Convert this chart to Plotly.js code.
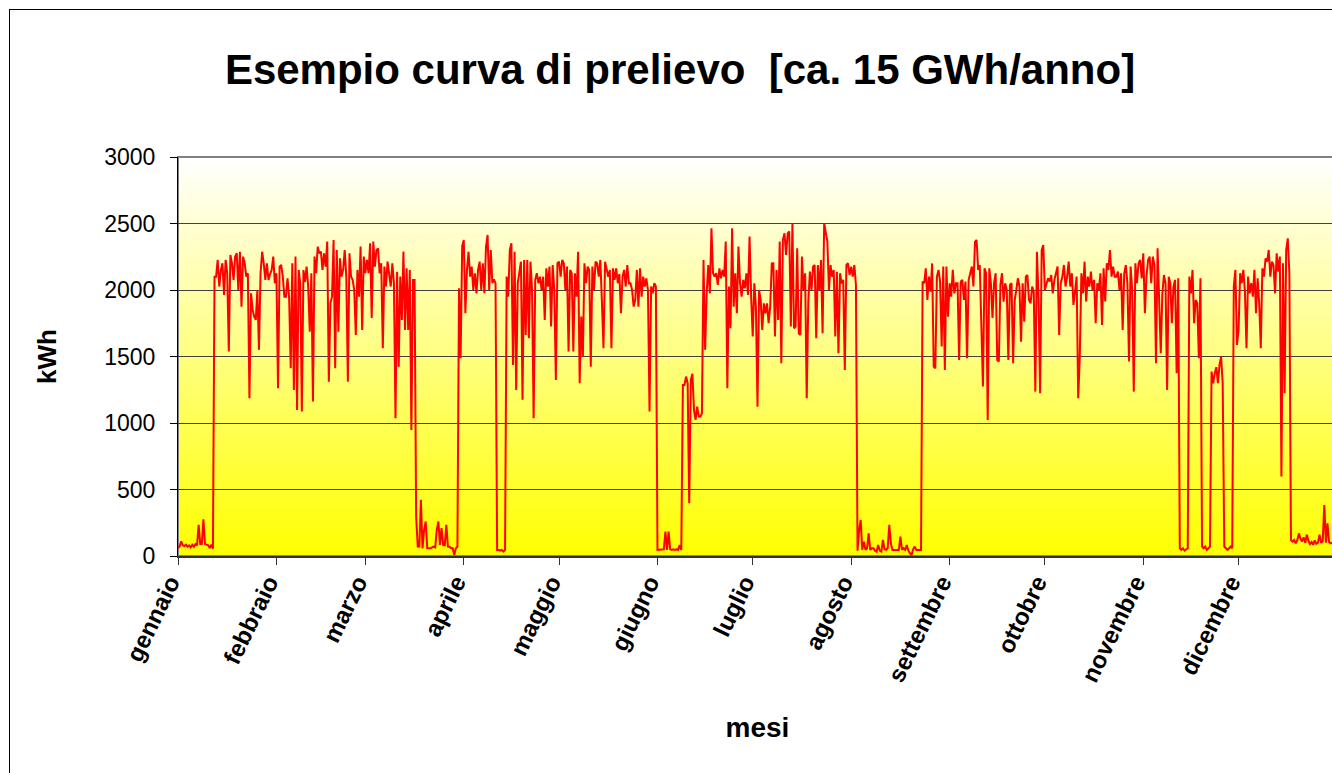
<!DOCTYPE html>
<html>
<head>
<meta charset="utf-8">
<script src="https://cdn.plot.ly/plotly-3.0.1.min.js"></script>
<style>
html,body{margin:0;padding:0;overflow:hidden;background:#fff;width:1332px;height:773px;}
#chart{position:absolute;left:0;top:0;width:1360px;height:773px;}
#bordo{position:absolute;left:9px;top:9px;width:1400px;height:900px;border:1px solid #000;pointer-events:none;}
</style>
</head>
<body>
<div id="chart"></div>
<div id="bordo"></div>
<script>
// Month names (tick labels) and first day of each month (day of year)
const mesi = ["gennaio","febbraio","marzo","aprile","maggio","giugno","luglio","agosto","settembre","ottobre","novembre","dicembre"];
const inizioMese = [0,31,59,90,120,151,181,212,243,273,304,334];
// sampling step of the series, in days (two readings per day)
const passo = 0.5;

// kWh readings, two per day, month by month
const gennaio = [60,70,110,80,75,85,70,80,65,85,70,90,80,234,90,90,276,90,85,80,60,85,55,
 2100,2100,2226,2026,2150,2201,1963,2226,2126,1537,
 2263,2201,2076,2251,2276,2000,2288,1875,2251,2201,
 2100,2126,1186,1975,1850,1800,1775,2000,1550,2126,
 2288,2200,2076,2201,2076,2120,2150,2251,2051];
const febbraio = [2126,1261,2176,2188,2101,1950,1950,2088,1940,1412,
 2201,1249,2251,1098,2151,2051,1086,2150,2060,2176,
 2026,1687,2126,1161,2251,2126,2326,2276,2288,2151,
 2276,2176,2364,1311,1900,1950,2376,1412,2300,1687,
 2238,2101,2151,2301,2101,1311,2276,2101,2076,2000,
 1662,2151,1950,2326,1700,2251];
const marzo = [2126,2226,2126,2351,1790,2364,2176,2301,2313,2126,
 2201,1562,2176,2026,2213,2100,2026,2200,2051,1036,
 2138,1424,2101,1775,2290,1700,2163,1700,2151,948,
 2076,2076,296,71,71,422,58,196,259,60,
 58,58,65,71,65,196,259,83,209,83,
 80,234,71,70,58,60,8,58,71,2013,
 1487,2330];
const aprile = [2376,1825,2151,2288,2100,2176,2000,2126,1975,2151,
 2213,2000,2201,1975,2326,2414,2000,2301,2051,2080,
 2051,46,46,40,46,33,46,2101,1950,2301,
 2351,1437,2288,1249,2051,2140,2213,1174,2226,1662,
 2226,1637,2213,2000,1036,2076,2126,2051,2100,2000,
 2100,1775,2163,2026,2176,1725,2188,2000,1324,2201];
const maggio = [2213,2101,2226,2201,2000,2176,1537,2151,2126,1537,
 2126,1950,2288,1299,1800,1499,2201,2051,2176,2151,
 1424,2176,2000,2213,2201,2101,2226,1913,1562,2213,
 2151,2100,2151,1562,2163,2076,2163,2051,2120,1825,
 2101,2151,2026,2188,2050,2051,2000,1875,1925,2151,
 1875,2163,1950,2101,2026,2088,2000,1086,2026,1975,
 2051,2026];
const giugno = [46,46,51,46,51,184,46,184,51,46,
 51,46,51,46,83,46,1286,1286,1349,1299,
 397,1324,1370,1098,1023,1123,1048,1048,1073,2226,
 1550,1975,2188,1975,2464,2126,2101,2126,2038,2163,
 2088,2151,2101,2364,1261,2026,1712,2464,1875,2126,
 1825,2326,2051,1950,2076,2013,2126,1963,2402,1950];
const luglio = [1650,2051,1875,1123,2000,1925,1700,1900,1825,1900,
 1750,1875,2200,2201,1650,2151,1775,2364,1449,2376,
 2426,2263,2426,2440,1725,2502,1712,1725,2313,1675,
 1662,2251,2000,2126,1186,1913,2138,2000,2176,2188,
 1637,2188,2000,2226,1675,2502,2426,2364,2000,2188,
 2100,2151,1650,2138,1524,2126,2051,2076,1399,2188,
 2201,2113];
const agosto = [2176,2101,2188,2038,40,196,271,46,108,46,
 60,171,46,58,58,40,33,83,40,33,
 121,50,46,60,234,96,46,46,46,50,
 46,146,46,58,46,83,40,21,5,50,
 71,46,46,50,46,2063,2051,2163,1925,2101,
 1988,2200,1424,1412,2101,2151,2063,1575,2176,1399,
 2176,1800];
const settembre = [2051,1950,2151,1975,2051,2051,1474,2063,2076,1925,
 2063,1487,2076,2126,2176,2026,2364,2376,2150,2188,
 1700,1274,2163,2126,1023,2163,2051,1790,2051,2126,
 1474,1462,2040,2126,1913,2051,2000,1474,2038,2051,
 1449,1925,2000,2088,2026,1612,2051,1762,2101,2113,
 1925,1900,2026,1988,1236,2288,1950,1224,2301,2338];
const ottobre = [2000,2038,2088,2063,2113,1975,2076,2126,2176,1662,
 2051,2100,2188,2026,2101,2213,2026,2126,1888,1988,
 2101,1186,1499,2126,1975,2213,1913,2101,2026,2138,
 2000,2076,1750,2051,2000,2126,1737,2163,1913,2201,
 2151,2301,2101,2176,2100,2100,2138,2000,2126,1700,
 2126,2188,2051,1462,2176,2000,1236,2201,2051,2201,
 2226,2088];
const novembre = [2276,1825,2101,2226,2251,2051,2251,2188,1449,2313,
 1975,1524,1975,2113,2051,1249,2100,2051,1750,2026,
 2076,1374,2088,58,46,58,40,46,58,2101,
 1975,2151,1750,1925,1900,1487,2088,71,58,71,
 46,58,71,1387,1299,1374,1420,1299,1437,1499,
 1299,71,58,46,58,71,58,2026,2151,1587];
const dicembre = [1700,2126,2051,2151,1988,1562,2101,1975,2051,1950,
 2151,1825,2088,1900,1562,2163,2101,2238,2213,2301,
 2101,2213,2188,1975,2276,2138,2251,597,2201,1224,
 2300,2388,2126,120,108,120,96,120,170,130,
 110,140,100,160,115,90,105,85,118,92,
 100,160,100,112,384,100,246,105,95,100,
 104,98];

const kwh = [].concat(gennaio,febbraio,marzo,aprile,maggio,giugno,luglio,agosto,settembre,ottobre,novembre,dicembre);
const giorno = kwh.map((_, i) => i * passo);

const FONT = '"Liberation Sans", Arial, sans-serif';

const gradSvg = '<svg xmlns="http://www.w3.org/2000/svg" width="10" height="100" viewBox="0 0 10 100" preserveAspectRatio="none">' +
  '<defs><linearGradient id="g" x1="0" y1="0" x2="0" y2="1">' +
  '<stop offset="0" stop-color="#ffffff"/><stop offset="1" stop-color="#ffff00"/>' +
  '</linearGradient></defs><rect x="0" y="0" width="10" height="100" fill="url(#g)"/></svg>';
const gradSrc = 'data:image/svg+xml;charset=utf-8,' + encodeURIComponent(gradSvg);

const trace = {
  x: giorno,
  y: kwh,
  type: 'scatter',
  mode: 'lines',
  line: {color: '#ff0000', width: 2},
  hoverinfo: 'skip'
};

const layout = {
  width: 1360,
  height: 773,
  margin: {l: 178, r: 23, t: 157, b: 217},
  paper_bgcolor: '#ffffff',
  plot_bgcolor: 'rgba(0,0,0,0)',
  showlegend: false,
  font: {family: FONT, color: '#000'},
  title: {
    text: 'Esempio curva di prelievo\u00a0 [ca. 15 GWh/anno]',
    font: {family: FONT, size: 42, weight: 'bold', color: '#000'},
    x: 680/1360, xanchor: 'center', xref: 'container',
    y: 1 - 69/773, yanchor: 'middle'
  },
  xaxis: {
    range: [0, 365],
    tickmode: 'array',
    tickvals: inizioMese,
    ticktext: mesi,
    tickangle: -64,
    tickfont: {family: FONT, size: 24, weight: 'bold', color: '#000'},
    ticklabelshift: -8,
    ticklabelstandoff: -6,
    ticks: 'outside', ticklen: 7, tickcolor: '#333', tickwidth: 1,
    showline: true, linecolor: '#333', linewidth: 2,
    showgrid: false, zeroline: false,
    title: {text: 'mesi', font: {family: FONT, size: 28, weight: 'bold', color: '#000'}, standoff: 32},
    fixedrange: true
  },
  yaxis: {
    range: [0, 3000],
    dtick: 500,
    tickfont: {family: FONT, size: 23, color: '#000'},
    ticks: 'outside', ticklen: 7, tickcolor: '#000', tickwidth: 1,
    ticklabelstandoff: 10,
    showline: true, linecolor: '#000', linewidth: 1,
    showgrid: true, gridcolor: '#404040', gridwidth: 1,
    zeroline: false,
    title: {text: 'kWh', font: {family: FONT, size: 26, weight: 'bold', color: '#000'}, standoff: 40},
    fixedrange: true
  },
  shapes: [{
    type: 'rect', xref: 'paper', yref: 'paper', x0: 0, x1: 1, y0: 0, y1: 1,
    line: {color: '#808080', width: 2}, fillcolor: 'rgba(0,0,0,0)', layer: 'below'
  }],
  images: [{
    source: gradSrc, xref: 'paper', yref: 'paper',
    x: 0, y: 1, sizex: 1, sizey: 1, xanchor: 'left', yanchor: 'top',
    sizing: 'stretch', layer: 'below'
  }]
};

Plotly.newPlot('chart', [trace], layout, {displayModeBar: false, staticPlot: true});
</script>
</body>
</html>
